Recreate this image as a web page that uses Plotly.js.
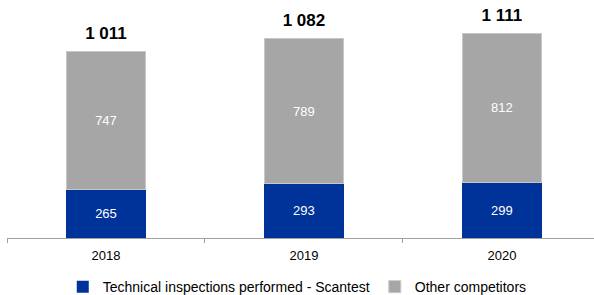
<!DOCTYPE html>
<html><head><meta charset="utf-8">
<script src="https://cdn.plot.ly/plotly-3.0.1.min.js"></script>
<style>html,body{margin:0;padding:0;background:#fff}#chart{width:594px;height:295px}</style>
</head><body><div id="chart"></div>
<script>
const years = ['2018', '2019', '2020'];
const scantest = [265, 293, 299];
const competitors = [747, 789, 812];
const totalValues = [1011, 1082, 1111];
const totalLabels = ['1 011', '1 082', '1 111'];
const seriesNames = ['Technical inspections performed - Scantest', 'Other competitors'];

const font = 'Liberation Sans, Arial, sans-serif';
const traces = [
  {type:'bar', x: years, y: scantest, name: seriesNames[0], marker:{color:'#003399'},
   text: scantest.map(String), textposition:'inside', insidetextanchor:'middle',
   textfont:{color:'#ffffff', size:13, family:font}, width:0.4, hoverinfo:'none'},
  {type:'bar', x: years, y: competitors, name: seriesNames[1], marker:{color:'#a6a6a6', line:{color:'#c8c8c8', width:1}},
   text: competitors.map(String), textposition:'inside', insidetextanchor:'middle',
   textfont:{color:'#ffffff', size:13, family:font}, width:0.4, hoverinfo:'none'},
  {type:'scatter', mode:'markers+text', x: years, y: totalValues,
   marker:{size:11, color:'rgba(0,0,0,0)'},
   text: totalLabels.map(t => '<b>' + t + '</b>'), textposition:'top center',
   textfont:{size:17, color:'#000', family:font}, showlegend:false, cliponaxis:false, hoverinfo:'none'}
];
const layout = {
  width:594, height:295, barmode:'stack',
  margin:{l:7, r:0, t:10, b:57, autoexpand:false},
  paper_bgcolor:'#fff', plot_bgcolor:'#fff',
  font:{family:font, size:13, color:'#000'},
  xaxis:{type:'category', range:[-0.5, 2.465], showline:true, linecolor:'#a0a0a0', linewidth:1,
    ticks:'outside', tickson:'boundaries', ticklen:4, tickcolor:'#a0a0a0', showgrid:false,
    ticklabelstandoff:5, tickfont:{size:13, color:'#000', family:font}},
  yaxis:{range:[0, 1236], visible:false, showgrid:false, zeroline:false},
  showlegend:true,
  legend:{orientation:'h', x:0.095, xanchor:'left', yref:'container', y:0.027, yanchor:'middle',
    font:{size:14, family:font, color:'#000'}, itemwidth:30, traceorder:'normal'}
};
Plotly.newPlot('chart', traces, layout, {displayModeBar:false, staticPlot:true});
</script></body></html>
